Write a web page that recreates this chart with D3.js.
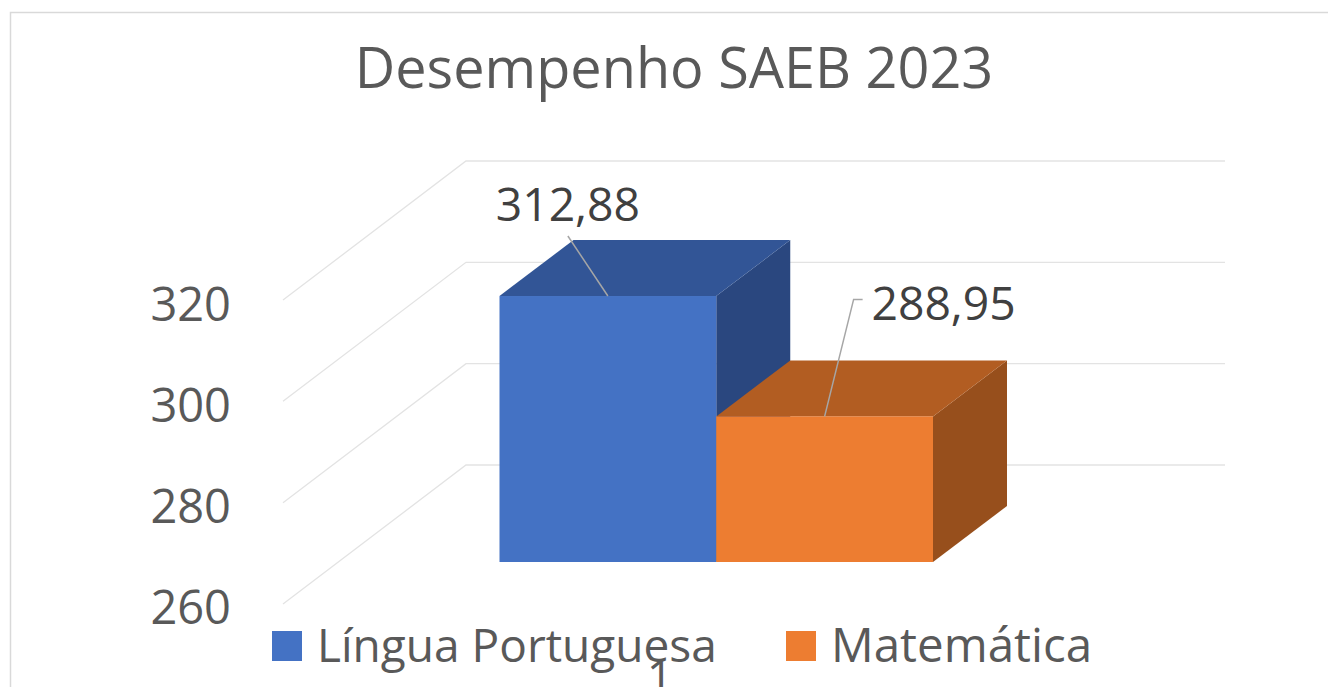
<!DOCTYPE html>
<html><head><meta charset="utf-8">
<style>html,body{margin:0;padding:0;background:#fff;overflow:hidden}svg{display:block}text{font-family:"Open Sans",sans-serif}</style>
<script src="https://cdn.jsdelivr.net/npm/d3@7"></script></head><body>
<svg id="c" width="1328" height="687"></svg>
<script>
const chartTitle = "Desempenho SAEB 2023";
const seriesNames = ["Língua Portuguesa", "Matemática"];
const seriesValues = [312.88, 288.95];
const valueLabels = ["312,88", "288,95"];
const yTicks = [260, 280, 300, 320];
const categoryLabel = "1";
const frontColors = ["#4472C4", "#ED7D31"];
const topColors = ["#325596", "#B25D22"];
const sideColors = ["#2A477F", "#974F1C"];

const svg = d3.select("#c");
const dom = [260, 320];
const yBar = d3.scaleLinear().domain(dom).range([562, 260.2]);
const yWall = d3.scaleLinear().domain(dom).range([465, 161]);
const yFront = d3.scaleLinear().domain(dom).range([604, 300]);
const x = d3.scaleBand().domain(seriesNames).range([499.5, 933]);
const depth = {dx: 74, dy: -56};

svg.append("path").attr("d", "M1328,12.5H10.5V687").attr("fill", "none").attr("stroke", "#d9d9d9").attr("stroke-width", 1.5);

svg.append("text").attr("x", 674).attr("y", 88).attr("text-anchor", "middle")
  .attr("font-size", 55.8).attr("fill", "#595959").text(chartTitle);

// wall and floor gridlines
svg.append("g").selectAll("path").data(yTicks).join("path")
  .attr("d", d => `M283,${yFront(d)}L466,${yWall(d)}H1225`)
  .attr("fill", "none").attr("stroke", "#e3e3e3").attr("stroke-width", 1.3);

// value axis labels
const axis = d3.axisLeft(yFront.copy().range([607, 304])).tickValues(yTicks).tickSize(0).tickPadding(0);
const ag = svg.append("g").attr("transform", "translate(231,0)").call(axis);
ag.select(".domain").remove();
ag.selectAll("text").attr("font-size", 47).attr("fill", "#595959")
  .style("font-family", '"Open Sans",sans-serif').attr("dy", "0.36em");

// 3D bars
const bars = svg.append("g").selectAll("g").data(seriesNames).join("g");
bars.append("path").attr("fill", (d, i) => sideColors[i]).attr("d", (d, i) => {
  const r = x(d) + x.bandwidth(), t = yBar(seriesValues[i]), b = yBar(dom[0]);
  return `M${r},${t}l${depth.dx},${depth.dy}V${b + depth.dy}L${r},${b}Z`;
});
bars.append("path").attr("fill", (d, i) => topColors[i]).attr("d", (d, i) => {
  const l = x(d), w = x.bandwidth(), t = yBar(seriesValues[i]);
  return `M${l},${t}l${depth.dx},${depth.dy}h${w}l${-depth.dx},${-depth.dy}Z`;
});
bars.append("rect").attr("fill", (d, i) => frontColors[i])
  .attr("x", d => x(d)).attr("width", x.bandwidth())
  .attr("y", (d, i) => yBar(seriesValues[i]))
  .attr("height", (d, i) => yBar(dom[0]) - yBar(seriesValues[i]));

// leader lines, anchored on the bars
const cx = i => x(seriesNames[i]) + x.bandwidth() / 2;
const tops = seriesValues.map(v => yBar(v));
const leaders = [
  [[cx(0), tops[0]], [cx(0) - 40, tops[0] - 60]],
  [[cx(1), tops[1]], [cx(1) + 29, tops[1] - 117], [cx(1) + 38, tops[1] - 117]]
];
svg.append("g").selectAll("path").data(leaders).join("path")
  .attr("d", d3.line()).attr("fill", "none").attr("stroke", "#a6a6a6").attr("stroke-width", 1.5);

// value labels
const labelPos = [[cx(0) - 40, tops[0] - 75], [cx(1) + 119, tops[1] - 96]];
svg.append("g").selectAll("text").data(valueLabels).join("text")
  .attr("x", (d, i) => labelPos[i][0]).attr("y", (d, i) => labelPos[i][1])
  .attr("text-anchor", "middle").attr("font-size", 46.3).attr("fill", "#404040").text(d => d);

// legend
const legendX = [272, 786];
const legendFont = [46, 47.5];
const lg = svg.append("g").selectAll("g").data(seriesNames).join("g")
  .attr("transform", (d, i) => `translate(${legendX[i]},631)`);
lg.append("rect").attr("width", 30).attr("height", 30).attr("fill", (d, i) => frontColors[i]);
lg.append("text").attr("x", 45).attr("y", 31).attr("font-size", (d, i) => legendFont[i]).attr("fill", "#595959").text(d => d);

// category label, cut by the page bottom
svg.append("text").attr("x", 660).attr("y", 693).attr("text-anchor", "middle")
  .attr("font-size", 46).attr("fill", "#595959").text(categoryLabel);
</script></body></html>
